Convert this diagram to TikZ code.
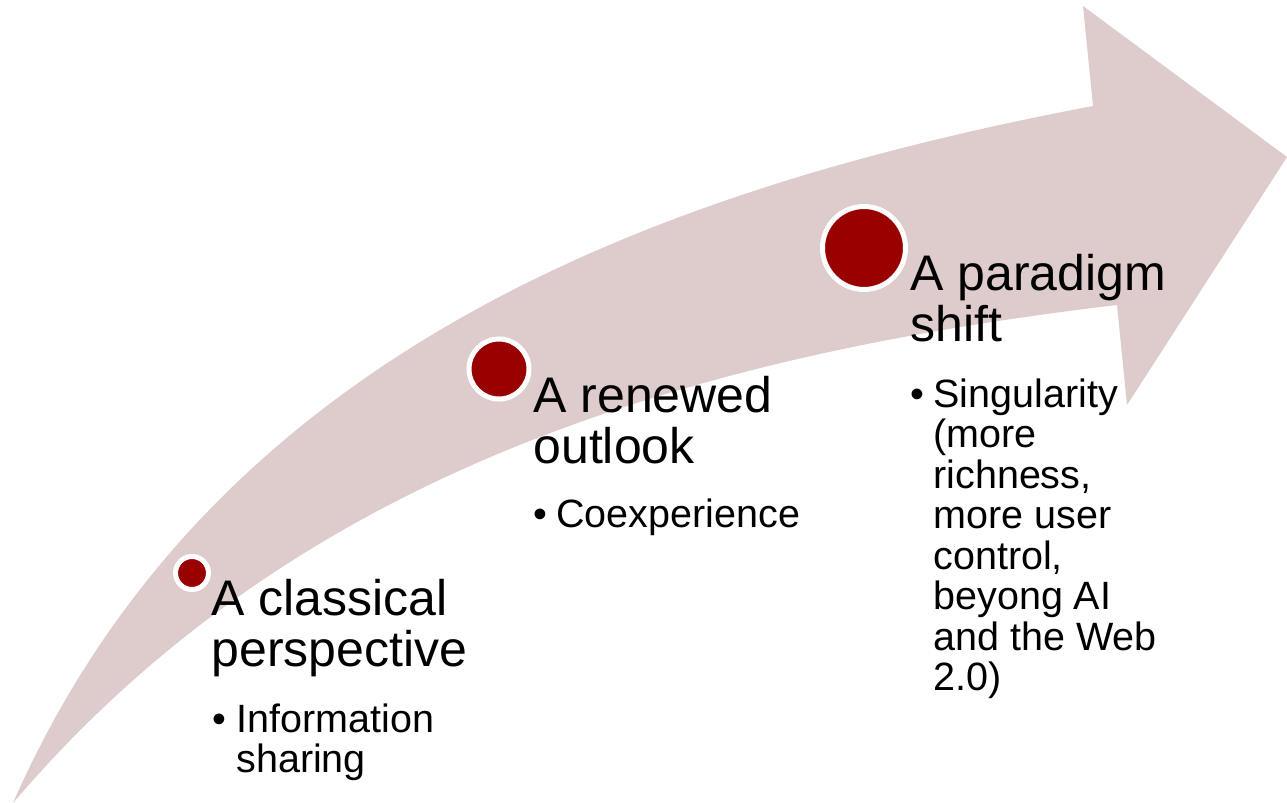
\documentclass[tikz,border=0pt]{standalone}
\usepackage{fontspec}
\setmainfont{Liberation Sans}
\definecolor{arrowfill}{HTML}{DECBCC}
\definecolor{dotred}{HTML}{990000}
\newcommand{\ttl}{\fontsize{25}{25.5}\selectfont}
\newcommand{\bdy}{\fontsize{19.75}{20.25}\selectfont}
\begin{document}
\begin{tikzpicture}[x=0.5pt,y=-0.5pt,
  dot/.style={circle,inner sep=0pt,fill=dotred,draw=white,line width=2.5pt},
  ttlbox/.style={anchor=base west,inner sep=0pt,font=\ttl},
  bdybox/.style={anchor=base west,inner sep=0pt,font=\bdy}]
\useasboundingbox (0,0) rectangle (1287,803);
% curved arrow
\fill[arrowfill] (13,803) .. controls (210,355) and (650,190) .. (1093,106)
  -- (1083,6) -- (1287,157) -- (1127,405) -- (1117,305)
  .. controls (650,360) and (280,490) .. (13,803) -- cycle;
% dots
\node[dot,minimum size=16.5pt] (c1) at (192,573) {};
\node[dot,minimum size=30pt] (c2) at (499,369) {};
\node[dot,minimum size=41.5pt] (c3) at (864,248) {};
% titles
\node[ttlbox] (t1) at (211,615) {\parbox[t]{300pt}{A classical\\perspective}};
\node[ttlbox] (t2) at (533,412) {\parbox[t]{300pt}{A renewed\\outlook}};
\node[ttlbox] (t3) at (910,290) {\parbox[t]{300pt}{A paradigm\\shift}};
% bullets
\node[bdybox] (b1) at (212,732) {\textbullet};
\node[bdybox] (l1) at (236,732) {\parbox[t]{200pt}{Information\\sharing}};
\node[bdybox] (b2) at (533,527) {\textbullet};
\node[bdybox] (l2) at (556,527) {\parbox[t]{200pt}{Coexperience}};
\node[bdybox] (b3) at (910,407) {\textbullet};
\node[bdybox] (l3) at (933,407) {\parbox[t]{200pt}{Singularity\\(more\\richness,\\more user\\control,\\beyong AI\\and the Web\\2.0)}};
\end{tikzpicture}
\end{document}
